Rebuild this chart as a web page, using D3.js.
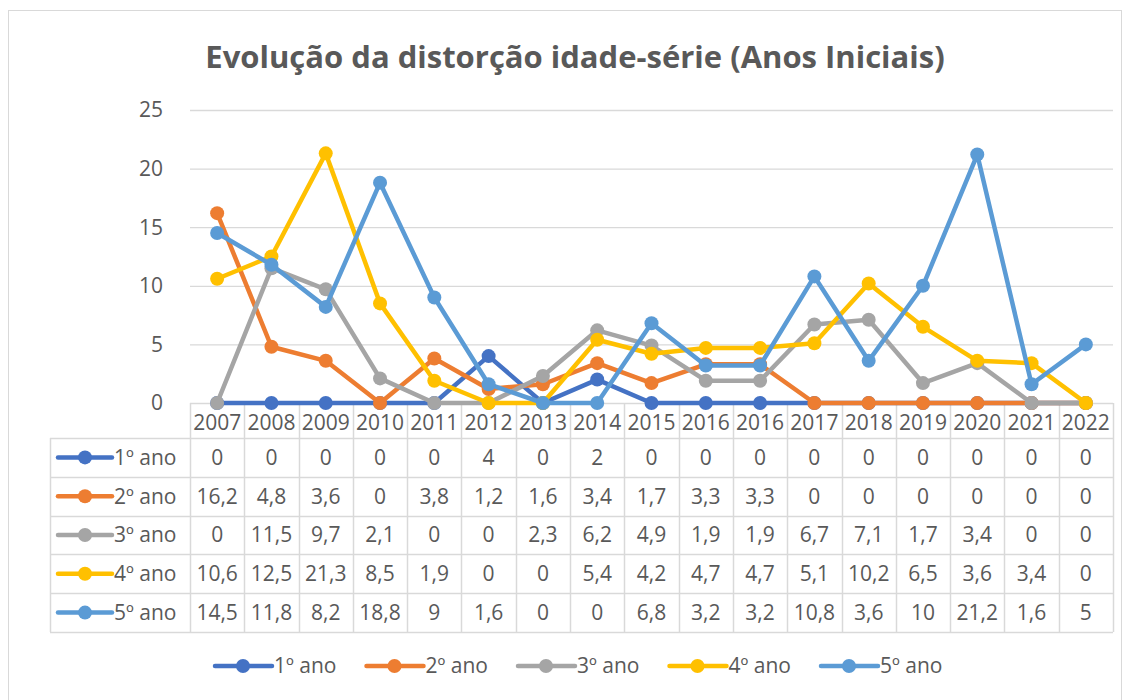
<!DOCTYPE html>
<html>
<meta charset="utf-8">
<style>
  body { margin: 0; background: #fff; }
  text { font-family: "Open Sans", "Noto Sans", sans-serif; fill: #595959; }
</style>
<body>
</body>
<script src="https://cdn.jsdelivr.net/npm/d3@7"></script>
<script>

var categories = ["2007", "2008", "2009", "2010", "2011", "2012", "2013", "2014", "2015",
                  "2016", "2016", "2017", "2018", "2019", "2020", "2021", "2022"];

var seriesNames = ["1º ano", "2º ano", "3º ano", "4º ano", "5º ano"];
var seriesColors = ["#4472C4", "#ED7D31", "#A5A5A5", "#FFC000", "#5B9BD5"];

var ano1 = [0, 0, 0, 0, 0, 4, 0, 2, 0, 0, 0, 0, 0, 0, 0, 0, 0];
var ano2 = [16.2, 4.8, 3.6, 0, 3.8, 1.2, 1.6, 3.4, 1.7, 3.3, 3.3, 0, 0, 0, 0, 0, 0];
var ano3 = [0, 11.5, 9.7, 2.1, 0, 0, 2.3, 6.2, 4.9, 1.9, 1.9, 6.7, 7.1, 1.7, 3.4, 0, 0];
var ano4 = [10.6, 12.5, 21.3, 8.5, 1.9, 0, 0, 5.4, 4.2, 4.7, 4.7, 5.1, 10.2, 6.5, 3.6, 3.4, 0];
var ano5 = [14.5, 11.8, 8.2, 18.8, 9, 1.6, 0, 0, 6.8, 3.2, 3.2, 10.8, 3.6, 10, 21.2, 1.6, 5];

var yTicks = [0, 5, 10, 15, 20, 25];

var series = [ano1, ano2, ano3, ano4, ano5].map(function (v, i) {
  return { name: seriesNames[i], color: seriesColors[i], values: v };
});

var width = 1131, height = 700;
var plotLeft = 190, plotRight = 1113, plotTop = 110, plotBottom = 403;
var tableLeft = 50, headerBottom = 438, rowH = 38.8;
var fs = "21px";

var svg = d3.select("body").append("svg")
    .attr("width", width)
    .attr("height", height);

// outer frame
svg.append("rect")
  .attr("x", 8.5).attr("y", 10.5)
  .attr("width", 1113).attr("height", 700)
  .attr("fill", "none").attr("stroke", "#D9D9D9").attr("stroke-width", 1);

// title
svg.append("text")
  .attr("x", 575).attr("y", 68)
  .attr("text-anchor", "middle")
  .style("font-size", "31px").style("font-weight", "bold")
  .text("Evolução da distorção idade-série (Anos Iniciais)");

var x = d3.scaleBand()
  .domain(d3.range(categories.length))
  .range([plotLeft, plotRight]);

var y = d3.scaleLinear()
  .domain([0, 25])
  .range([plotBottom, plotTop]);

// gridlines
svg.append("g").selectAll("line")
  .data(yTicks).enter().append("line")
  .attr("x1", plotLeft).attr("x2", plotRight)
  .attr("y1", function (d) { return y(d) + 0.5; })
  .attr("y2", function (d) { return y(d) + 0.5; })
  .attr("stroke", "#D9D9D9").attr("stroke-width", 1.3);

// y axis labels
svg.append("g").selectAll("text")
  .data(yTicks).enter().append("text")
  .attr("x", 163)
  .attr("y", function (d) { return y(d); })
  .attr("dy", "0.35em")
  .attr("text-anchor", "end")
  .style("font-size", fs)
  .text(function (d) { return d; });

// data table
var table = svg.append("g").attr("class", "table");
var nRows = series.length;
var tableBottom = headerBottom + nRows * rowH;

// vertical lines between category columns
var bounds = d3.range(categories.length + 1).map(function (i) {
  return i < categories.length ? x(i) : plotRight;
});
table.selectAll(".vline")
  .data(bounds).enter().append("line")
  .attr("class", "vline")
  .attr("x1", function (d) { return Math.round(d) + 0.5; })
  .attr("x2", function (d) { return Math.round(d) + 0.5; })
  .attr("y1", plotBottom).attr("y2", tableBottom)
  .attr("stroke", "#D9D9D9").attr("stroke-width", 1.5);

table.append("line")
  .attr("x1", tableLeft + 0.5).attr("x2", tableLeft + 0.5)
  .attr("y1", headerBottom).attr("y2", tableBottom)
  .attr("stroke", "#D9D9D9").attr("stroke-width", 1.5);

table.selectAll(".hline")
  .data(d3.range(nRows + 1)).enter().append("line")
  .attr("class", "hline")
  .attr("x1", tableLeft).attr("x2", plotRight)
  .attr("y1", function (d) { return Math.round(headerBottom + d * rowH) + 0.5; })
  .attr("y2", function (d) { return Math.round(headerBottom + d * rowH) + 0.5; })
  .attr("stroke", "#D9D9D9").attr("stroke-width", 1.5);

// category labels
table.selectAll(".cat")
  .data(categories).enter().append("text")
  .attr("class", "cat")
  .attr("x", function (d, i) { return x(i) + x.bandwidth() / 2; })
  .attr("y", (plotBottom + headerBottom) / 2 + 2)
  .attr("dy", "0.35em")
  .attr("text-anchor", "middle")
  .style("font-size", fs)
  .text(function (d) { return d; });

function fmt(v) { return String(v).replace(".", ","); }

var rows = table.selectAll(".row")
  .data(series).enter().append("g")
  .attr("class", "row")
  .attr("transform", function (d, i) { return "translate(0," + (headerBottom + (i + 0.5) * rowH) + ")"; });

rows.append("line")
  .attr("x1", 58).attr("x2", 112).attr("y1", 0).attr("y2", 0)
  .attr("stroke", function (d) { return d.color; })
  .attr("stroke-width", 4.5).attr("stroke-linecap", "round");
rows.append("circle")
  .attr("cx", 85).attr("cy", 0).attr("r", 7)
  .attr("fill", function (d) { return d.color; });
rows.append("text")
  .attr("x", 114).attr("dy", "0.35em")
  .style("font-size", fs)
  .text(function (d) { return d.name; });

rows.selectAll(".val")
  .data(function (d) { return d.values; }).enter().append("text")
  .attr("class", "val")
  .attr("x", function (d, i) { return x(i) + x.bandwidth() / 2; })
  .attr("dy", "0.35em")
  .attr("text-anchor", "middle")
  .style("font-size", fs)
  .text(function (d) { return fmt(d); });

// lines
var line = d3.line()
  .x(function (d, i) { return x(i) + x.bandwidth() / 2; })
  .y(function (d) { return y(d); });

var sg = svg.append("g").selectAll(".series")
  .data(series).enter().append("g").attr("class", "series");

sg.append("path")
  .attr("d", function (d) { return line(d.values); })
  .attr("fill", "none")
  .attr("stroke", function (d) { return d.color; })
  .attr("stroke-width", 4.5)
  .attr("stroke-linejoin", "round");

sg.selectAll("circle")
  .data(function (d) { return d.values.map(function (v) { return { v: v, color: d.color }; }); })
  .enter().append("circle")
  .attr("cx", function (d, i) { return x(i) + x.bandwidth() / 2; })
  .attr("cy", function (d) { return y(d.v); })
  .attr("r", 7)
  .attr("fill", function (d) { return d.color; });

// bottom legend
var legend = svg.append("g").selectAll(".leg")
  .data(series).enter().append("g")
  .attr("class", "leg")
  .attr("transform", function (d, i) { return "translate(" + (215 + i * 151.5) + ",666)"; });

legend.append("line")
  .attr("x1", 0).attr("x2", 57).attr("y1", 0).attr("y2", 0)
  .attr("stroke", function (d) { return d.color; })
  .attr("stroke-width", 4.5).attr("stroke-linecap", "round");
legend.append("circle")
  .attr("cx", 28).attr("cy", 0).attr("r", 7)
  .attr("fill", function (d) { return d.color; });
legend.append("text")
  .attr("x", 59).attr("dy", "0.35em")
  .style("font-size", fs)
  .text(function (d) { return d.name; });

</script>
</html>
